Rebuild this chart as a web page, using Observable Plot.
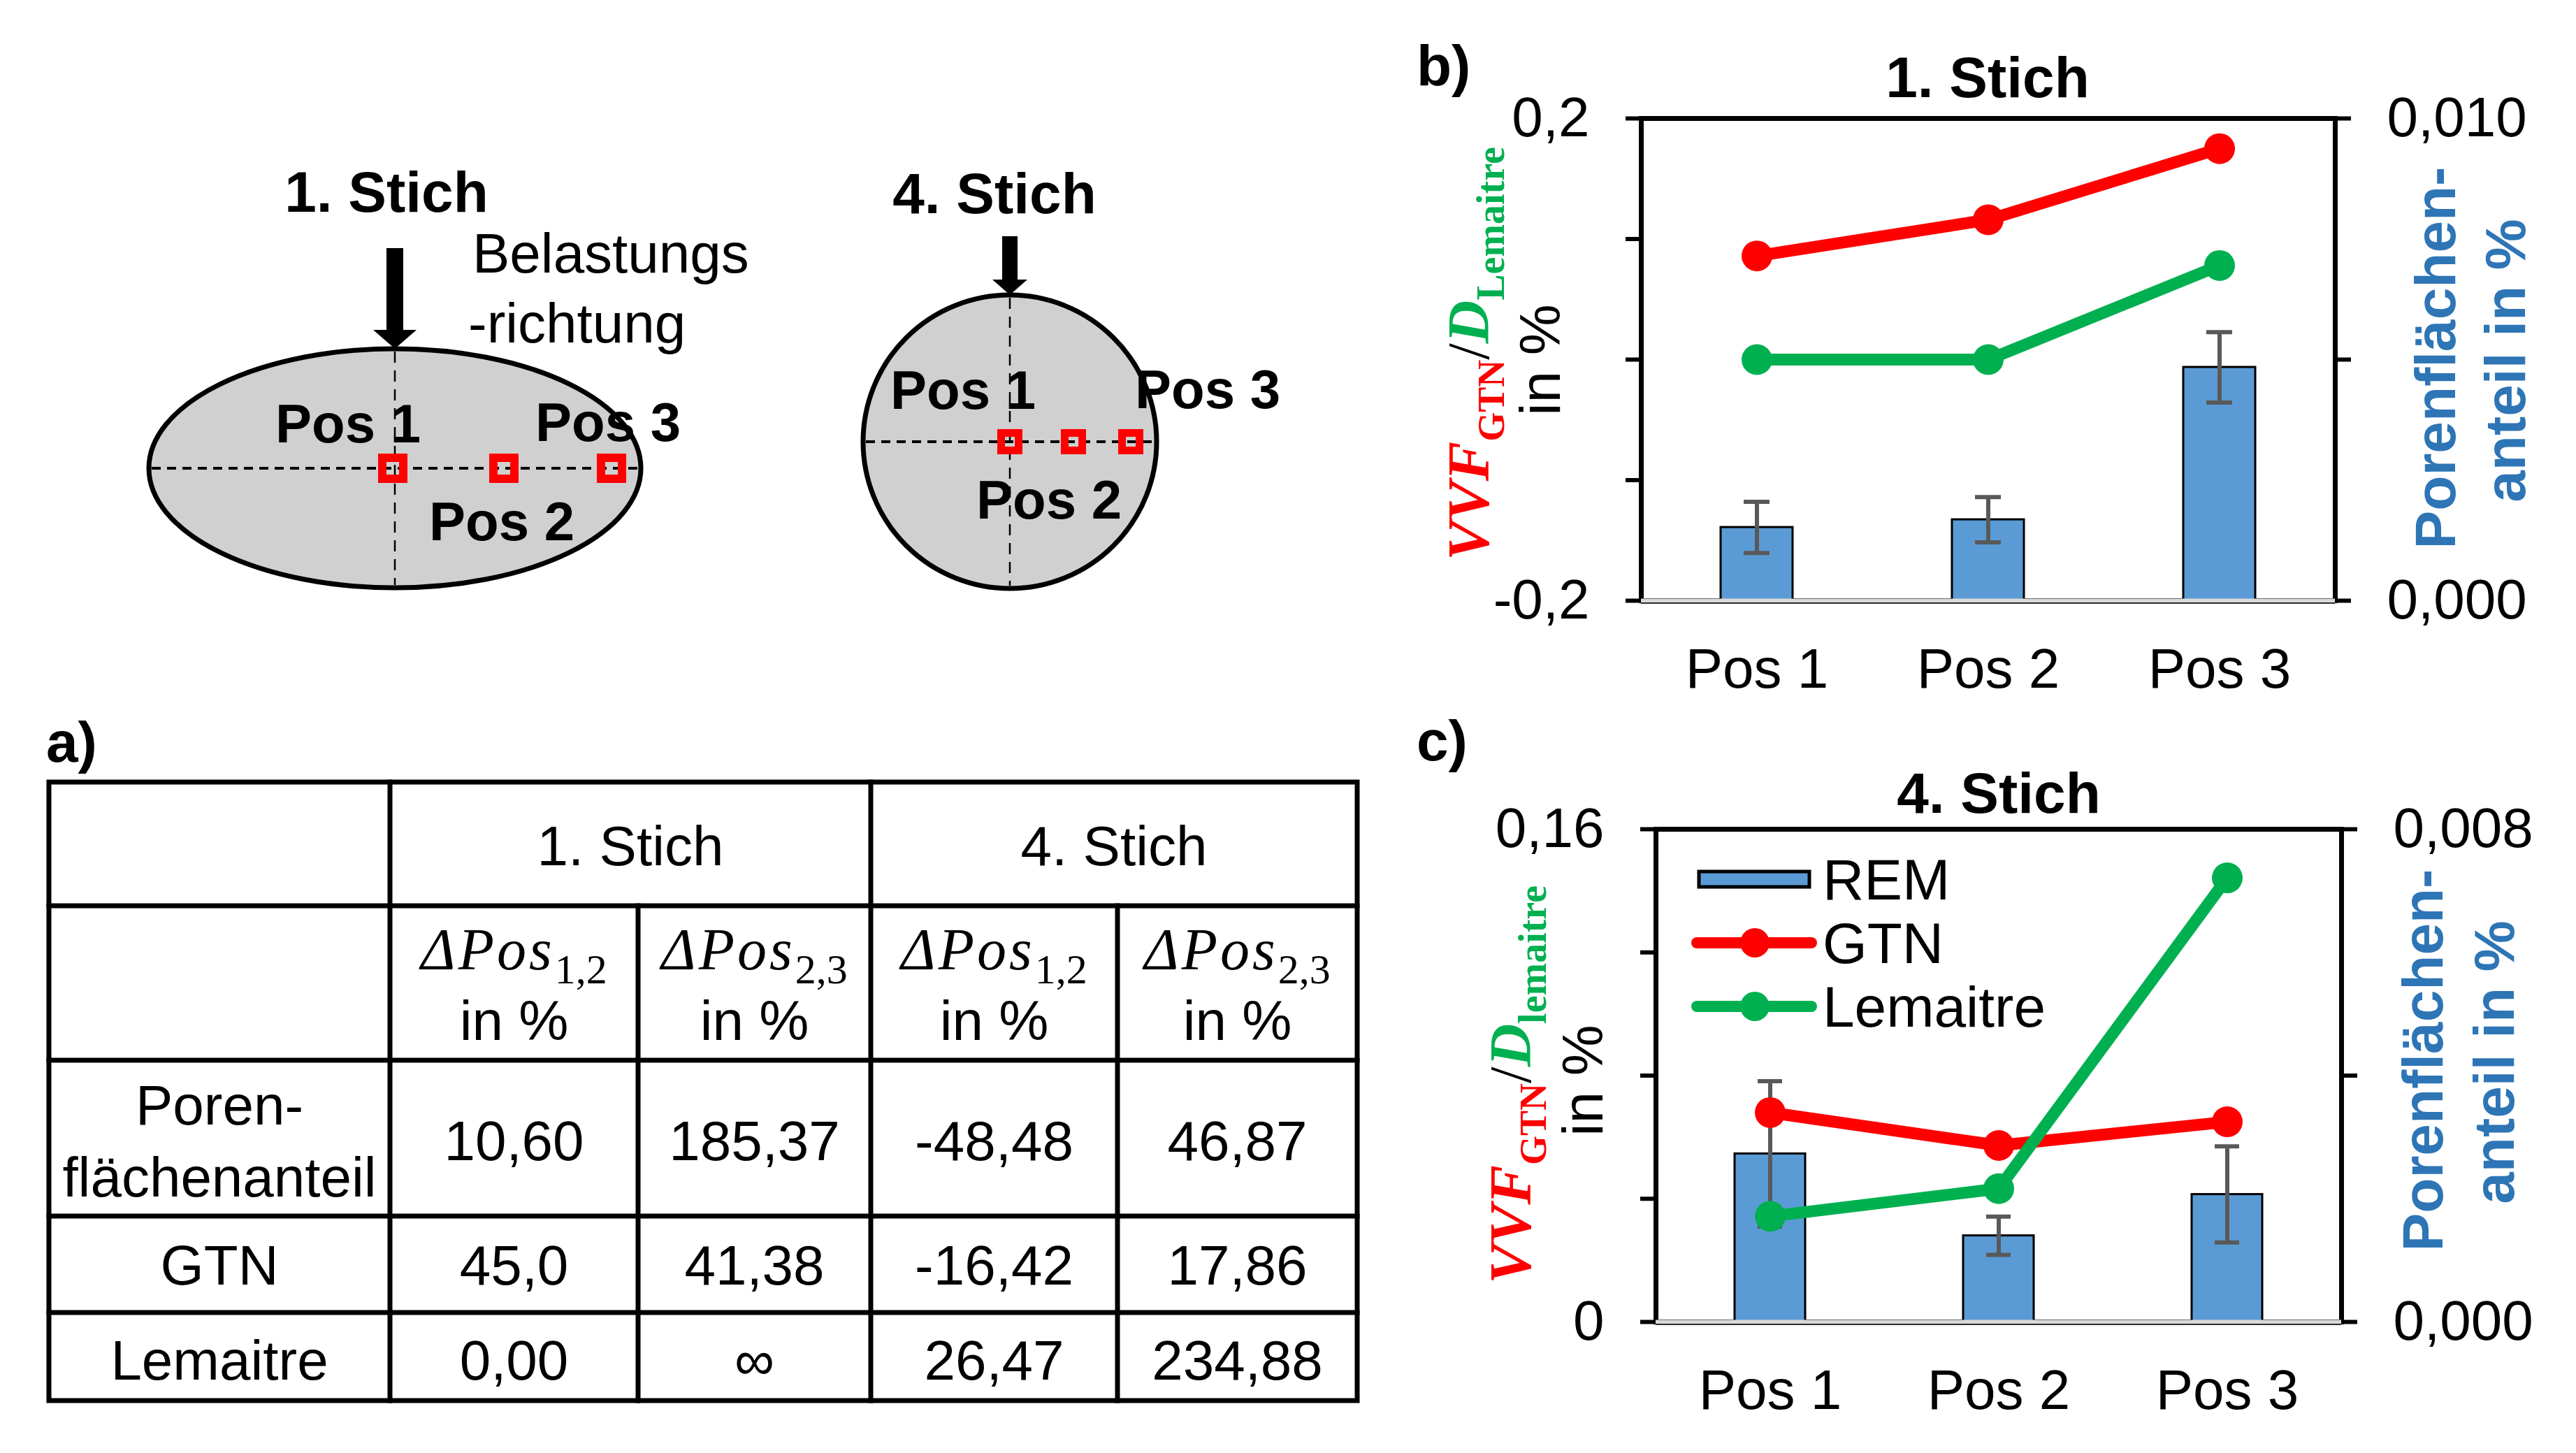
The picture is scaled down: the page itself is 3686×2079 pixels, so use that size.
<!DOCTYPE html>
<html>
<head>
<meta charset="utf-8">
<script src="https://cdn.jsdelivr.net/npm/d3@7"></script>
<script src="https://cdn.jsdelivr.net/npm/@observablehq/plot@0.6"></script>
<style>
html, body { margin: 0; padding: 0; background: #fff; }
#root { position: relative; width: 3686px; height: 2079px; overflow: hidden; background: #fff; }
.layer { position: absolute; }
</style>
</head>
<body>
<div id="root"></div>
<script>
// ---------------- DATA ----------------
const positions = ["Pos 1", "Pos 2", "Pos 3"];

// Chart b) 1. Stich
const b_rem    = [0.00152, 0.00168, 0.00484];
const b_remErr = [0.00053, 0.00047, 0.00073];
const b_gtn    = [0.086, 0.116, 0.175];
const b_lem    = [0.0, 0.0, 0.078];
const b_leftTicks = [-0.2, -0.1, 0, 0.1, 0.2];
const b_leftTickLabels = ["-0,2", "", "", "", "0,2"];
const b_rightTicks = [0, 0.005, 0.01];
const b_rightTickLabels = ["0,000", "", "0,010"];

// Chart c) 4. Stich
const c_rem    = [0.00273, 0.00140, 0.00207];
const c_remErr = [0.00118, 0.00031, 0.00078];
const c_gtn    = [0.068, 0.0573, 0.065];
const c_lem    = [0.0343, 0.0433, 0.1442];
const c_leftTicks = [0, 0.04, 0.08, 0.12, 0.16];
const c_leftTickLabels = ["0", "", "", "", "0,16"];
const c_rightTicks = [0, 0.004, 0.008];
const c_rightTickLabels = ["0,000", "", "0,008"];

const seriesNames = ["REM", "GTN", "Lemaitre"];
const chartTitles = ["1. Stich", "4. Stich"];
const rightAxisLabel = ["Porenflächen-", "anteil in %"];

// Table a)
const tableHeader = ["1. Stich", "4. Stich"];
const tableSubscripts = ["1,2", "2,3", "1,2", "2,3"];
const tableRowLabels = [["Poren-", "flächenanteil"], ["GTN"], ["Lemaitre"]];
const tableValues = [
  ["10,60", "185,37", "-48,48", "46,87"],
  ["45,0", "41,38", "-16,42", "17,86"],
  ["0,00", "\u221E", "26,47", "234,88"]
];

// ---------------- STYLE ----------------
const FONT = "'Liberation Sans', Arial, Helvetica, sans-serif";
const SERIF = "'Liberation Serif', 'Times New Roman', serif";
const RED = "#FF0000", GREEN = "#00B050", BARBLUE = "#5B9BD5", LABELBLUE = "#2E75B6", ERRGREY = "#595959";
const FS = 80;

const root = document.getElementById("root");

// ---------------- CHARTS (Plot) ----------------
function addChart(c) {
  const rows = positions.map((p, i) => ({pos: p, rem: c.rem[i], err: c.remErr[i], gtn: c.gtn[i], lem: c.lem[i]}));
  const base = {
    width: c.W, height: c.H,
    marginLeft: c.ml, marginRight: c.mr, marginTop: c.mt, marginBottom: c.mb,
    style: {background: "transparent", overflow: "visible", maxWidth: "none", fontFamily: FONT}
  };
  const xs = {type: "band", domain: positions, paddingInner: 0.69, paddingOuter: 0.345, axis: null};
  const bars = Plot.plot({
    ...base,
    x: xs,
    y: {domain: [0, c.rightMax], axis: null},
    marks: [
      Plot.frame({stroke: "black", strokeWidth: 7}),
      Plot.barY(rows, {x: "pos", y: "rem", fill: BARBLUE, stroke: "black", strokeWidth: 3}),
      Plot.ruleX(rows, {x: "pos", y1: d => d.rem - d.err, y2: d => d.rem + d.err, stroke: ERRGREY, strokeWidth: 6}),
      Plot.tickY(rows, {x: "pos", y: d => d.rem + d.err, stroke: ERRGREY, strokeWidth: 6, inset: 33}),
      Plot.tickY(rows, {x: "pos", y: d => d.rem - d.err, stroke: ERRGREY, strokeWidth: 6, inset: 33}),
      Plot.ruleY([0], {stroke: "#D9D9D9", strokeWidth: 6}),
      Plot.ruleY([0], {stroke: "black", strokeWidth: 1.5, dy: 3.5}),
      Plot.axisY({anchor: "right", ticks: c.rightTicks, tickFormat: d => c.rightTickLabels[c.rightTicks.indexOf(d)],
        tickSize: 22, tickPadding: 52, strokeWidth: 6, fontSize: FS, label: null}),
      Plot.axisX({anchor: "bottom", tickSize: 0, tickPadding: 68, fontSize: FS, label: null})
    ]
  });
  const lines = Plot.plot({
    ...base,
    x: xs,
    y: {domain: c.leftDomain, axis: null},
    marks: [
      Plot.axisY({anchor: "left", ticks: c.leftTicks, tickFormat: d => c.leftTickLabels[c.leftTicks.indexOf(d)],
        tickSize: 22, tickPadding: 52, strokeWidth: 6, fontSize: FS, label: null}),
      Plot.line(rows, {x: "pos", y: "gtn", stroke: RED, strokeWidth: 17, strokeLinejoin: "round", strokeLinecap: "round"}),
      Plot.dot(rows, {x: "pos", y: "gtn", r: 22, fill: RED}),
      Plot.line(rows, {x: "pos", y: "lem", stroke: GREEN, strokeWidth: 17, strokeLinejoin: "round", strokeLinecap: "round"}),
      Plot.dot(rows, {x: "pos", y: "lem", r: 22, fill: GREEN})
    ]
  });
  for (const s of [bars, lines]) {
    const d = document.createElement("div");
    d.className = "layer";
    d.style.left = c.left + "px"; d.style.top = c.top + "px";
    d.style.width = c.W + "px"; d.style.height = c.H + "px";
    d.appendChild(s);
    root.appendChild(d);
  }
}

addChart({left: 2000, top: 100, W: 1686, H: 950, ml: 348, mr: 345, mt: 69, mb: 191,
  rem: b_rem, remErr: b_remErr, gtn: b_gtn, lem: b_lem, rightMax: 0.01, leftDomain: [-0.2, 0.2],
  leftTicks: b_leftTicks, leftTickLabels: b_leftTickLabels, rightTicks: b_rightTicks, rightTickLabels: b_rightTickLabels});
addChart({left: 2000, top: 1120, W: 1686, H: 950, ml: 369, mr: 336, mt: 66, mb: 179,
  rem: c_rem, remErr: c_remErr, gtn: c_gtn, lem: c_lem, rightMax: 0.008, leftDomain: [0, 0.16],
  leftTicks: c_leftTicks, leftTickLabels: c_leftTickLabels, rightTicks: c_rightTicks, rightTickLabels: c_rightTickLabels});

// ---------------- OVERLAY (schematic, table, labels, legend) ----------------
const svg = d3.select(root).append("svg")
  .attr("width", 3686).attr("height", 2079)
  .style("position", "absolute").style("left", "0px").style("top", "0px")
  .style("pointer-events", "none");

function T(g, x, y, s, o = {}) {
  return g.append("text").attr("x", x).attr("y", y)
    .attr("font-size", o.size || FS).attr("font-weight", o.weight || "normal")
    .attr("font-style", o.style || "normal").attr("text-anchor", o.anchor || "start")
    .attr("fill", o.fill || "black").attr("font-family", o.family || FONT).text(s);
}

// panel letters
T(svg, 66, 1090, "a)", {weight: "bold", size: 82});
T(svg, 2027, 122, "b)", {weight: "bold", size: 82});
T(svg, 2027, 1088, "c)", {weight: "bold", size: 82});

// chart titles
T(svg, 2844, 139, chartTitles[0], {weight: "bold", anchor: "middle", size: 82});
T(svg, 2860, 1163, chartTitles[1], {weight: "bold", anchor: "middle", size: 82});

// rotated axis labels
function rotText(x, y, parts) {
  const t = svg.append("text").attr("transform", `translate(${x},${y}) rotate(-90)`).attr("text-anchor", "middle");
  for (const p of parts) {
    t.append("tspan").attr("font-family", p.family || FONT).attr("font-size", p.size || FS)
      .attr("font-weight", p.weight || "normal").attr("font-style", p.style || "normal")
      .attr("fill", p.fill || "black").attr("dy", p.dy || 0).text(p.text);
  }
}
function leftLabel(x1, y1, x2, y2, dName) {
  rotText(x1, y1, [
    {text: "VVF", family: SERIF, size: 85, weight: "bold", style: "italic", fill: RED},
    {text: "GTN", family: SERIF, size: 54, weight: "bold", fill: RED, dy: 22},
    {text: "/", family: SERIF, size: 85, fill: "black", dy: -22},
    {text: "D", family: SERIF, size: 85, weight: "bold", style: "italic", fill: GREEN},
    {text: dName, family: SERIF, size: 56, weight: "bold", fill: GREEN, dy: 22}
  ]);
  rotText(x2, y2, [{text: "in %", size: 82}]);
}
leftLabel(2130, 506, 2232, 515, "Lemaitre");
leftLabel(2190, 1552, 2293, 1546, "lemaitre");

function rightLabel(x1, y1, x2, y2) {
  rotText(x1, y1, [{text: rightAxisLabel[0], size: 82, weight: "bold", fill: LABELBLUE}]);
  rotText(x2, y2, [{text: rightAxisLabel[1], size: 82, weight: "bold", fill: LABELBLUE}]);
}
rightLabel(3513, 512, 3613, 516);
rightLabel(3495, 1517, 3597, 1520);

// legend for c)
const lg = svg.append("g");
const legendY = [1258, 1349, 1440];
seriesNames.forEach((name, i) => {
  const y = legendY[i];
  if (i === 0) {
    lg.append("rect").attr("x", 2431).attr("y", y - 11).attr("width", 158).attr("height", 22)
      .attr("fill", BARBLUE).attr("stroke", "black").attr("stroke-width", 5);
  } else {
    const col = i === 1 ? RED : GREEN;
    lg.append("line").attr("x1", 2428).attr("x2", 2592).attr("y1", y).attr("y2", y)
      .attr("stroke", col).attr("stroke-width", 16).attr("stroke-linecap", "round");
    lg.append("circle").attr("cx", 2511).attr("cy", y).attr("r", 21).attr("fill", col);
  }
  T(lg, 2608, y + 29, name, {size: 82});
});

// schematic
const sk = svg.append("g");
function stich(o) {
  sk.append("ellipse").attr("cx", o.cx).attr("cy", o.cy).attr("rx", o.rx).attr("ry", o.ry)
    .attr("fill", "#D0D0D0").attr("stroke", "black").attr("stroke-width", 7);
  sk.append("line").attr("x1", o.cx - o.rx + 4).attr("x2", o.cx + o.rx - 4).attr("y1", o.cy).attr("y2", o.cy)
    .attr("stroke", "black").attr("stroke-width", 4).attr("stroke-dasharray", "13 9");
  sk.append("line").attr("x1", o.cx).attr("x2", o.cx).attr("y1", o.cy - o.ry + 4).attr("y2", o.cy + o.ry - 4)
    .attr("stroke", "black").attr("stroke-width", 2.5).attr("stroke-dasharray", "16 11");
  const a = o.arrow;
  sk.append("rect").attr("x", o.cx - a.w / 2).attr("y", a.top).attr("width", a.w).attr("height", a.headTop - a.top + 2).attr("fill", "black");
  sk.append("path").attr("d", `M${o.cx - a.hw / 2},${a.headTop} L${o.cx + a.hw / 2},${a.headTop} L${o.cx},${o.cy - o.ry} Z`).attr("fill", "black");
  o.squares.forEach(x => {
    sk.append("rect").attr("x", x - o.sq / 2).attr("y", o.cy - o.sq / 2).attr("width", o.sq).attr("height", o.sq)
      .attr("fill", "none").attr("stroke", RED).attr("stroke-width", o.sw);
  });
  T(sk, o.titleX, o.titleY, o.title, {weight: "bold", anchor: "middle", size: 82});
  o.labels.forEach(l => T(sk, l[0], l[1], l[2], {weight: "bold", size: 78}));
}
stich({cx: 565, cy: 670, rx: 352, ry: 171, title: "1. Stich", titleX: 553, titleY: 303,
  arrow: {w: 24, top: 355, headTop: 472, hw: 62}, squares: [562, 721, 875], sq: 30, sw: 12,
  labels: [[394, 633, "Pos 1"], [766, 631, "Pos 3"], [614, 773, "Pos 2"]]});
stich({cx: 1445, cy: 632, rx: 210, ry: 210, title: "4. Stich", titleX: 1423, titleY: 305,
  arrow: {w: 22, top: 338, headTop: 400, hw: 50}, squares: [1445, 1536, 1618], sq: 25, sw: 11,
  labels: [[1274, 585, "Pos 1"], [1624, 584, "Pos 3"], [1397, 742, "Pos 2"]]});
T(sk, 676, 390, "Belastungs", {size: 80});
T(sk, 670, 490, "-richtung", {size: 80});

// table a)
const tb = svg.append("g");
const colX = [70, 558, 913, 1246, 1599, 1942];
const rowY = [1119, 1296, 1517, 1740, 1878, 2004];
const lineAttr = sel => sel.attr("stroke", "black").attr("stroke-width", 7).attr("stroke-linecap", "square");
tb.append("rect").attr("x", colX[0]).attr("y", rowY[0]).attr("width", colX[5] - colX[0]).attr("height", rowY[5] - rowY[0])
  .attr("fill", "none").attr("stroke", "black").attr("stroke-width", 7);
for (let r = 1; r <= 4; r++) lineAttr(tb.append("line").attr("x1", colX[0]).attr("x2", colX[5]).attr("y1", rowY[r]).attr("y2", rowY[r]));
[1, 3].forEach(c => lineAttr(tb.append("line").attr("x1", colX[c]).attr("x2", colX[c]).attr("y1", rowY[0]).attr("y2", rowY[5])));
[2, 4].forEach(c => lineAttr(tb.append("line").attr("x1", colX[c]).attr("x2", colX[c]).attr("y1", rowY[1]).attr("y2", rowY[5])));
T(tb, (colX[1] + colX[3]) / 2, 1238, tableHeader[0], {anchor: "middle"});
T(tb, (colX[3] + colX[5]) / 2, 1238, tableHeader[1], {anchor: "middle"});
tableSubscripts.forEach((s, i) => {
  const cx = (colX[i + 1] + colX[i + 2]) / 2;
  const t = tb.append("text").attr("x", cx).attr("y", 1387).attr("text-anchor", "middle");
  t.append("tspan").attr("font-family", SERIF).attr("font-style", "italic").attr("font-size", 84).attr("letter-spacing", 4).text("\u0394Pos");
  t.append("tspan").attr("font-family", SERIF).attr("font-size", 60).attr("dy", 20).text(s);
  T(tb, cx, 1488, "in %", {anchor: "middle"});
});
const bodyBase = [[1609, 1712, 1660], [1838, null, 1838], [1974, null, 1974]];
tableRowLabels.forEach((lab, r) => {
  const cx0 = (colX[0] + colX[1]) / 2;
  lab.forEach((s, k) => T(tb, cx0, bodyBase[r][k], s, {anchor: "middle"}));
  tableValues[r].forEach((v, i) => {
    T(tb, (colX[i + 1] + colX[i + 2]) / 2, bodyBase[r][2], v, {anchor: "middle"});
  });
});
</script>
</body>
</html>
